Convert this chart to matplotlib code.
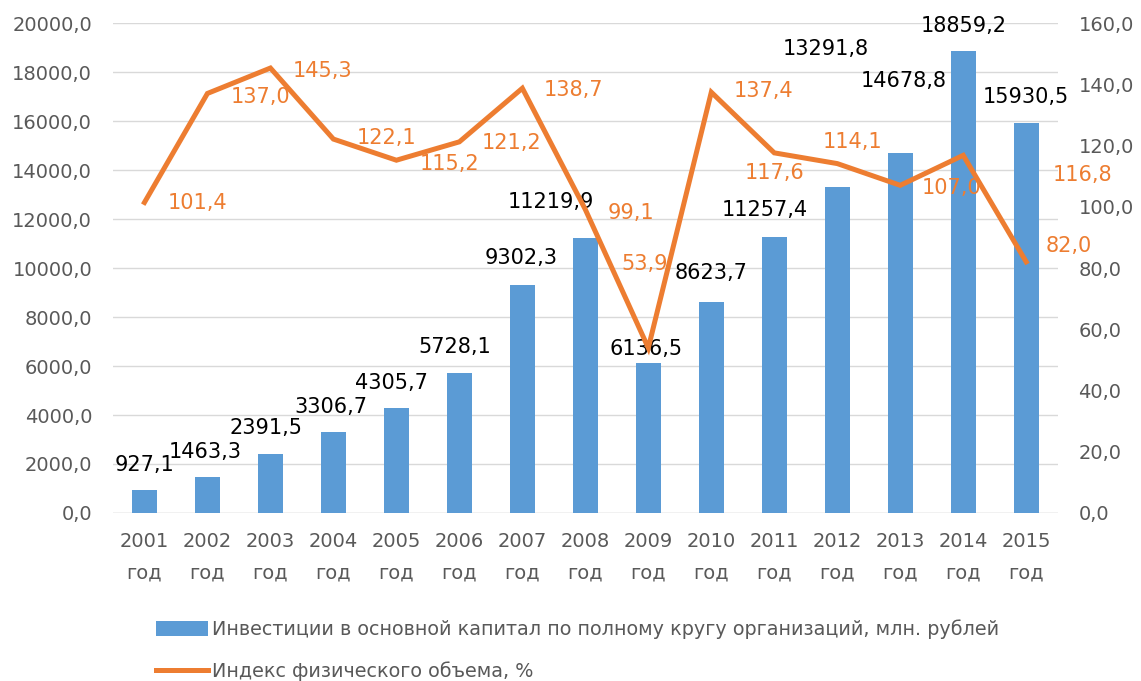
import matplotlib.pyplot as plt
import numpy as np

# data
years = ["2001", "2002", "2003", "2004", "2005", "2006", "2007", "2008",
         "2009", "2010", "2011", "2012", "2013", "2014", "2015"]
investments = [927.1, 1463.3, 2391.5, 3306.7, 4305.7, 5728.1, 9302.3, 11219.9,
               6136.5, 8623.7, 11257.4, 13291.8, 14678.8, 18859.2, 15930.5]
volume_index = [101.4, 137.0, 145.3, 122.1, 115.2, 121.2, 138.7, 99.1,
                53.9, 137.4, 117.6, 114.1, 107.0, 116.8, 82.0]

bar_name = "Инвестиции в основной капитал по полному кругу организаций, млн. рублей"
line_name = "Индекс физического объема, %"

# label offsets in pixels (dx, dy up), hand placed like in the source
bar_lbl_off = [(0, 25), (-2, 25), (-4, 26), (-3, 25), (-5, 25), (-5, 26), (-1, 27), (-34, 36),
               (-2, 14), (0, 29), (-10, 27), (-12, 138), (3, 72), (0, 25), (0, 26)]
line_lbl_off = [(53, -1), (53, -4), (52, -3), (53, 1), (53, -4), (52, -1), (51, -2), (46, -3),
                (-4, 84), (52, 1), (0, -20), (15, 22), (51, -3), (119, -20), (43, 16)]

blue = "#5B9BD5"
orange = "#ED7D31"
grey = "#595959"

fig = plt.figure(figsize=(11.41, 6.81), dpi=100)
ax = fig.add_axes([0.099, 0.2467, 0.828, 0.7195])
ax2 = ax.twinx()

x = np.arange(len(years))
bars = ax.bar(x, investments, width=0.4, color=blue, zorder=2, label=bar_name)
ln, = ax2.plot(x, volume_index, color=orange, lw=3.6, solid_joinstyle="miter",
               label=line_name, zorder=3)

ax.set_xlim(-0.5, len(years) - 0.5)
ax.set_ylim(0, 20000)
ax2.set_ylim(0, 160)
ax.set_yticks(np.arange(0, 20001, 2000))
ax2.set_yticks(np.arange(0, 161, 20))
ax.set_yticklabels([f"{v:.1f}".replace(".", ",") for v in ax.get_yticks()])
ax2.set_yticklabels([f"{v:.1f}".replace(".", ",") for v in ax2.get_yticks()])
ax.set_xticks(x)
ax.set_xticklabels([y + "\nгод" for y in years], linespacing=1.8)

ax.grid(axis="y", color="#D9D9D9", lw=1, zorder=0)
for a in (ax, ax2):
    for s in a.spines.values():
        s.set_visible(False)
    a.tick_params(length=0, labelsize=14, labelcolor=grey)
ax.tick_params(axis="y", pad=15)
ax2.tick_params(axis="y", pad=15)
ax.tick_params(axis="x", pad=14)
ax.axhline(0, color="#D9D9D9", lw=1, zorder=1)

for i, v in enumerate(investments):
    dx, dy = bar_lbl_off[i]
    ax.annotate(f"{v:.1f}".replace(".", ","), (x[i], v), xytext=(dx, dy),
                textcoords="offset pixels", ha="center", va="center",
                fontsize=15, color="black", zorder=5)

for i, v in enumerate(volume_index):
    dx, dy = line_lbl_off[i]
    ax2.annotate(f"{v:.1f}".replace(".", ","), (x[i], v), xytext=(dx, dy),
                 textcoords="offset pixels", ha="center", va="center",
                 fontsize=15, color=orange, zorder=5)

leg = fig.legend(handles=[bars, ln], loc="center", bbox_to_anchor=(0.506, 0.045),
                 frameon=False, fontsize=13.8, labelspacing=1.15, handlelength=2.75,
                 handleheight=0.8, handletextpad=0.2)
for t in leg.get_texts():
    t.set_color(grey)

fig.savefig("out.png", dpi=100)
